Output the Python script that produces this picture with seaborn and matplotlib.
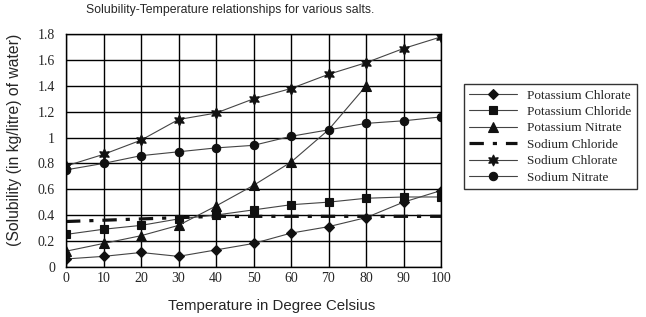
import matplotlib
matplotlib.use("Agg")
import matplotlib.pyplot as plt
import seaborn as sns
import numpy as np
import pandas as pd

temps = [0, 10, 20, 30, 40, 50, 60, 70, 80, 90, 100]
potassium_chlorate = [0.06, 0.08, 0.11, 0.08, 0.13, 0.18, 0.26, 0.31, 0.38, 0.50, 0.59]
potassium_chloride = [0.25, 0.29, 0.32, 0.37, 0.40, 0.44, 0.48, 0.50, 0.53, 0.54, 0.54]
potassium_nitrate_t = [0, 10, 20, 30, 40, 50, 60, 70, 80]
potassium_nitrate = [0.12, 0.18, 0.24, 0.32, 0.47, 0.63, 0.81, 1.06, 1.40]
sodium_chloride = [0.35, 0.36, 0.37, 0.38, 0.39, 0.39, 0.39, 0.39, 0.39, 0.39, 0.39]
sodium_chlorate = [0.78, 0.87, 0.98, 1.14, 1.19, 1.30, 1.38, 1.49, 1.58, 1.69, 1.78]
sodium_nitrate = [0.75, 0.80, 0.86, 0.89, 0.92, 0.94, 1.01, 1.06, 1.11, 1.13, 1.16]

y_ticks = [0, 0.2, 0.4, 0.6, 0.8, 1.0, 1.2, 1.4, 1.6, 1.8]
y_tick_labels = ["0", "0.2", "0.4", "0.6", "0.8", "1", "1.2", "1.4", "1.6", "1.8"]

title = "Solubility-Temperature relationships for various salts."
x_label = "Temperature in Degree Celsius"
y_label = "(Solubility (in kg/litre) of water)"

sns.set_style("white")
plt.rcParams['font.family'] = ['Liberation Sans', 'DejaVu Sans']

fig = plt.figure(figsize=(6.46, 3.17), dpi=100)
ax = fig.add_axes([66/646, 1-266.7/317, (441-66)/646, (266.7-34.3)/317])

line_c = "#444444"
mk_c = "#111111"

series = [
    ("Potassium Chlorate", temps, potassium_chlorate, dict(marker="D", markersize=5.2)),
    ("Potassium Chloride", temps, potassium_chloride, dict(marker="s", markersize=5.2)),
    ("Potassium Nitrate", potassium_nitrate_t, potassium_nitrate, dict(marker="^", markersize=6.5, markevery=[0,1,2,3,4,5,6,8])),
    ("Sodium Chloride", temps, sodium_chloride, None),
    ("Sodium Chlorate", temps, sodium_chlorate, dict(marker=(6, 1, 0), markersize=8)),
    ("Sodium Nitrate", temps, sodium_nitrate, dict(marker="o", markersize=6)),
]

for name, xs, ys, mk in series:
    if mk is None:
        sns.lineplot(x=xs, y=ys, ax=ax, color="#111111", linewidth=2.3,
                     linestyle=(0, (4.5, 2.8, 1.3, 2.8)), label=name, legend=False)
    else:
        sns.lineplot(x=xs, y=ys, ax=ax, color=line_c, linewidth=0.8,
                     markerfacecolor=mk_c, markeredgecolor=mk_c, markeredgewidth=0.8,
                     label=name, legend=False, **mk)

ax.set_xlim(0, 100)
ax.set_ylim(0, 1.8)
ax.set_xticks(temps)
ax.set_xticklabels([str(t) for t in temps], family="Liberation Serif", fontsize=10)
ax.set_yticks(y_ticks)
ax.set_yticklabels(y_tick_labels, family="Liberation Serif", fontsize=10)
ax.tick_params(axis="x", length=0, pad=4)
ax.tick_params(axis="y", length=0, pad=8)
ax.grid(True, color="black", linewidth=1.0)
for s in ax.spines.values():
    s.set_color("black")
    s.set_linewidth(1.0)
ax.set_axisbelow(True)

fig.text(272/646, 1-306/317, x_label, ha="center", va="center", fontsize=10.8)
fig.text(15/646, 1-140/317, y_label, ha="center", va="center", fontsize=11.3, rotation=90)
fig.text(230/646, 1-10/317, title, ha="center", va="center", fontsize=8.8)

h, l = ax.get_legend_handles_labels()
leg = fig.legend(h, l, loc="upper left", bbox_to_anchor=(464/646, 1-84/317),
                 borderaxespad=0, frameon=True, fancybox=False,
                 prop={"family": "Liberation Serif", "size": 9.5},
                 handlelength=3.6, labelspacing=0.32, handletextpad=0.8,
                 borderpad=0.4)
leg.get_frame().set_edgecolor("black")
leg.get_frame().set_linewidth(1.0)

fig.savefig("out.png", dpi=100)
